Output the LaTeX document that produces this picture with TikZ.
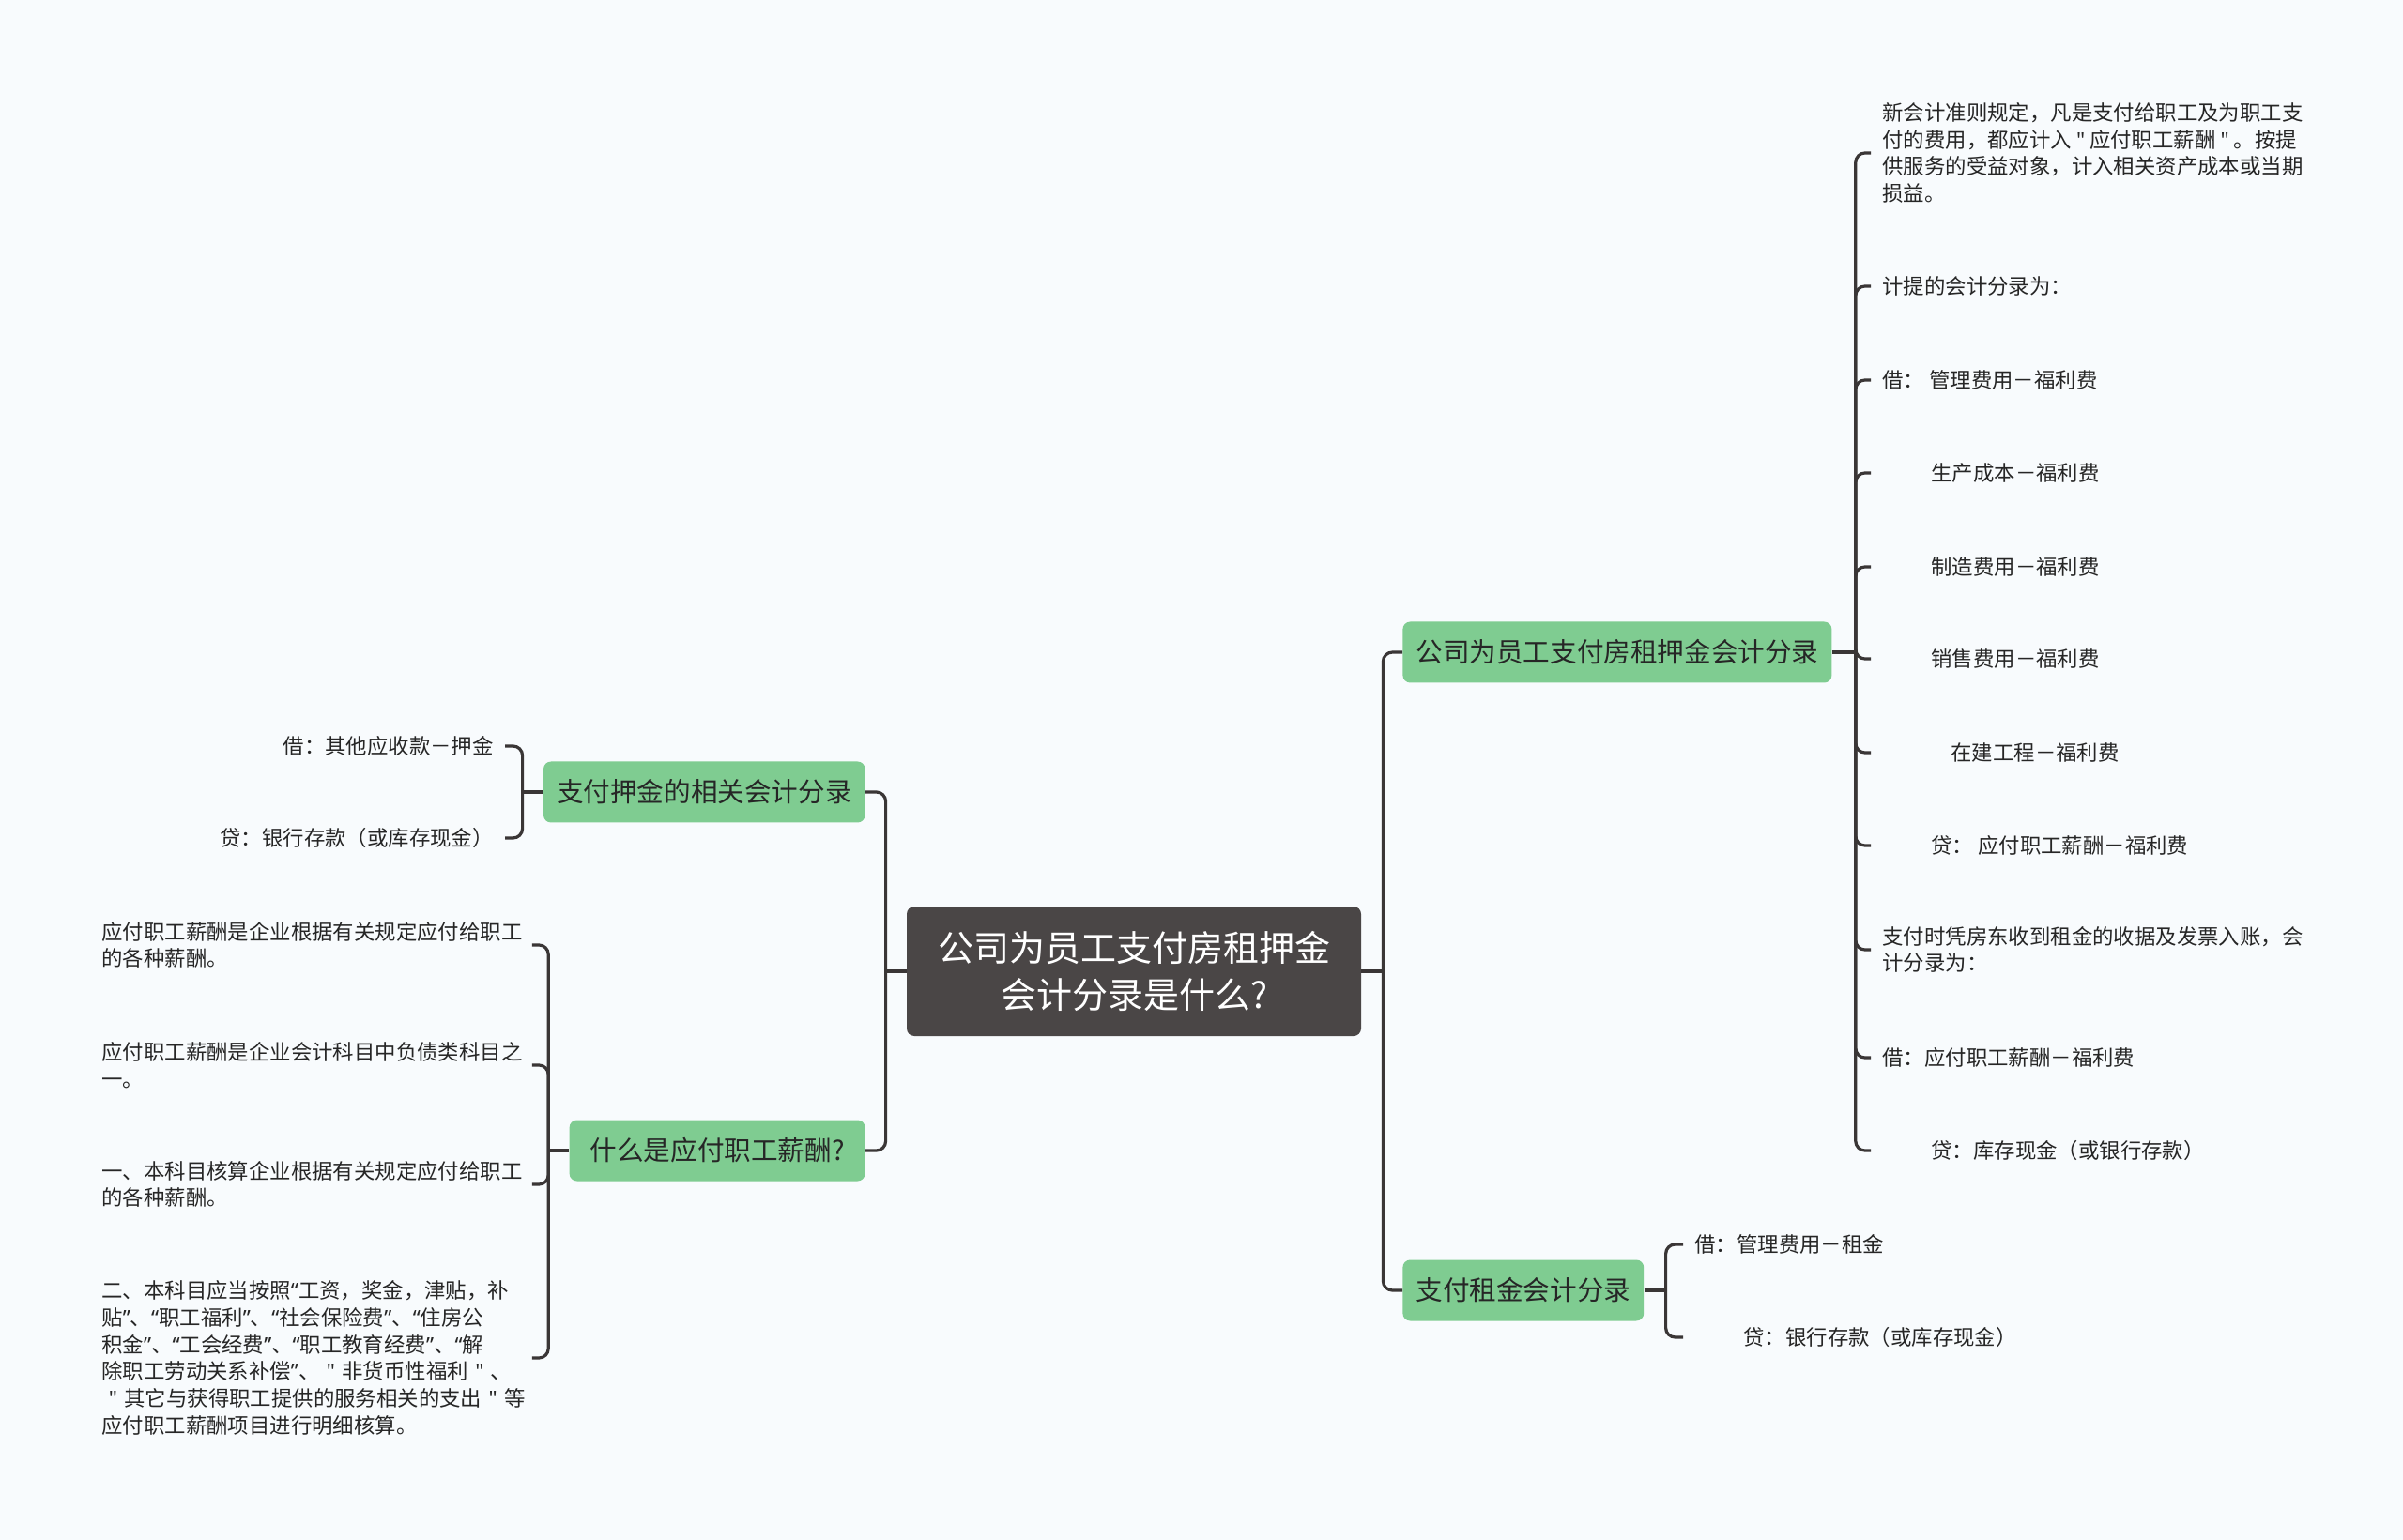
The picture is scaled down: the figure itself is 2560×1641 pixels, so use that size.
\documentclass[tikz,border=0pt]{standalone}
\usepackage{fontspec}
\setmainfont{Noto Sans CJK SC}[Ligatures=TeXOff]
\newfontfamily\quotefont{Noto Sans}[Ligatures=TeXOff]
\newcommand{\lquo}{{\quotefont “}}
\newcommand{\rquo}{{\quotefont ”}}
\newcommand{\squo}{{\quotefont "}}
\definecolor{bgwhite}{HTML}{F8FBFD}
\definecolor{rootgray}{HTML}{4A4646}
\definecolor{topicgreen}{HTML}{7FCC91}
\definecolor{linedark}{HTML}{3A3636}
\definecolor{textdark}{HTML}{262626}

\begin{document}
\begin{tikzpicture}[
  x=0.5pt, y=-0.5pt,
  root/.style={
    rounded corners=4pt,
    fill=rootgray,
    text=white,
    align=center,
    minimum width=242pt,
    minimum height=69pt,
    font=\fontsize{19pt}{25.3pt}\selectfont
  },
  topic/.style={
    rounded corners=4pt,
    fill=topicgreen,
    text=textdark,
    minimum height=32.5pt,
    inner xsep=7pt,
    font=\fontsize{14.3pt}{17pt}\selectfont
  },
  leaf/.style={
    inner sep=0pt,
    align=left,
    text=textdark,
    font=\fontsize{11.2pt}{14.4pt}\selectfont
  },
  link/.style={draw=linedark, line width=1.6pt, rounded corners=5pt}
]

\fill[bgwhite] (0,0) rectangle (2560,1641);
\useasboundingbox (0,0) rectangle (2560,1641);

\node[root] (root) at (1208,1035)
  {公司为员工支付房租押金\\会计分录是什么?};

\node[topic, anchor=west] (rent) at (1494,695) {公司为员工支付房租押金会计分录};
\node[topic, anchor=west] (rentpay) at (1494,1375) {支付租金会计分录};
\node[topic, anchor=east] (deposit) at (922,844) {支付押金的相关会计分录};
\node[topic, anchor=east, minimum width=157.5pt] (salary) at (922,1226) {什么是应付职工薪酬?};

\node[leaf, anchor=west] (rule) at (2005,163)
  {新会计准则规定，凡是支付给职工及为职工支\\付的费用，都应计入~\squo~应付职工薪酬~\squo~。按提\\供服务的受益对象，计入相关资产成本或当期\\损益。};
\node[leaf, anchor=west] (accrue) at (2005,305) {计提的会计分录为：};
\node[leaf, anchor=west] (dmgmt) at (2005,405) {借：~管理费用－福利费};
\node[leaf, anchor=west] (dprod) at (2005,504) {\hspace*{26pt}生产成本－福利费};
\node[leaf, anchor=west] (dmake) at (2005,604) {\hspace*{26pt}制造费用－福利费};
\node[leaf, anchor=west] (dsale) at (2005,702) {\hspace*{26pt}销售费用－福利费};
\node[leaf, anchor=west] (dbuild) at (2005,802) {\hspace*{36.5pt}在建工程－福利费};
\node[leaf, anchor=west] (cpay) at (2005,901) {\hspace*{26pt}贷：~应付职工薪酬－福利费};
\node[leaf, anchor=west] (receipt) at (2005,1012)
  {支付时凭房东收到租金的收据及发票入账，会\\计分录为：};
\node[leaf, anchor=west] (dpay) at (2005,1127) {借：应付职工薪酬－福利费};
\node[leaf, anchor=west] (ccash) at (2005,1226) {\hspace*{26pt}贷：库存现金（或银行存款）};

\node[leaf, anchor=west] (drent) at (1805,1326) {借：管理费用－租金};
\node[leaf, anchor=west] (cbank) at (1805,1425) {\hspace*{26pt}贷：银行存款（或库存现金）};

\node[leaf, anchor=east] (dother) at (526,795) {借：其他应收款－押金};
\node[leaf, anchor=east] (cdeposit) at (526,893) {贷：银行存款（或库存现金）};

\node[leaf, anchor=west, text width=226pt] (def1) at (108,1007)
  {应付职工薪酬是企业根据有关规定应付给职工\\的各种薪酬。};
\node[leaf, anchor=west, text width=226pt] (def2) at (108,1135)
  {应付职工薪酬是企业会计科目中负债类科目之\\一。};
\node[leaf, anchor=west, text width=226pt] (def3) at (108,1262)
  {一、本科目核算企业根据有关规定应付给职工\\的各种薪酬。};
\node[leaf, anchor=west, text width=226pt] (def4) at (108,1447)
  {二、本科目应当按照\lquo 工资，奖金，津贴，补\\贴\rquo 、\lquo 职工福利\rquo 、\lquo 社会保险费\rquo 、\lquo 住房公\\积金\rquo 、\lquo 工会经费\rquo 、\lquo 职工教育经费\rquo 、\lquo 解\\除职工劳动关系补偿\rquo 、~\squo~非货币性福利~\squo~、\\~\squo~其它与获得职工提供的服务相关的支出~\squo~等\\应付职工薪酬项目进行明细核算。};

\draw[link] (root.east) -- ++(23,0) coordinate (rootr);
\draw[link] (rootr) |- (rent.west);
\draw[link] (rootr) |- (rentpay.west);
\draw[link] (root.west) -- ++(-22,0) coordinate (rootl);
\draw[link] (rootl) |- (deposit.east);
\draw[link] (rootl) |- (salary.east);

\draw[link] (rent.east) -- ++(25,0) coordinate (rentj);
\foreach \leafname in {rule,accrue,dmgmt,dprod,dmake,dsale,dbuild,cpay,receipt,dpay,ccash}
  \draw[link] (rentj) |- ([xshift=-6pt]\leafname.west);

\draw[link] (rentpay.east) -- ++(23,0) coordinate (rentpayj);
\draw[link] (rentpayj) |- ([xshift=-6pt]drent.west);
\draw[link] (rentpayj) |- ([xshift=-6pt]cbank.west);

\draw[link] (deposit.west) -- ++(-22,0) coordinate (depositj);
\draw[link] (depositj) |- ([xshift=6pt]dother.east);
\draw[link] (depositj) |- ([xshift=6pt]cdeposit.east);

\draw[link] (salary.west) -- ++(-22,0) coordinate (salaryj);
\foreach \leafname in {def1,def2,def3,def4}
  \draw[link] (salaryj) |- ([xshift=3pt]\leafname.east);

\end{tikzpicture}
\end{document}
